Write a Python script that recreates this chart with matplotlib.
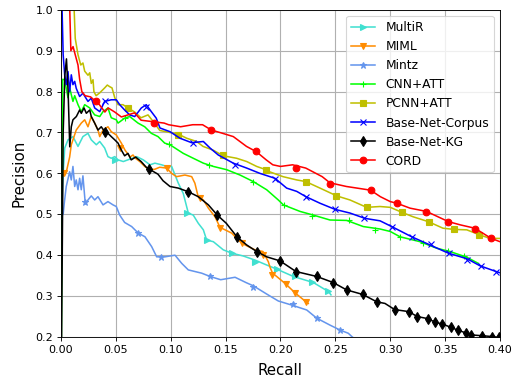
import matplotlib
matplotlib.use("Agg")
import matplotlib.pyplot as plt
from matplotlib.lines import Line2D

# ---- data (recall, precision) ----
multir_r = [0.0005, 0.002, 0.0034, 0.0064, 0.0109, 0.0155, 0.020, 0.0246, 0.0276, 0.0322, 0.0353,
            0.0398, 0.0428, 0.0458, 0.049, 0.052, 0.0568, 0.069, 0.075, 0.0811, 0.0856, 0.0917,
            0.0963, 0.1008, 0.1069, 0.1114, 0.116, 0.1205, 0.1251, 0.1297, 0.1327, 0.1388, 0.1479,
            0.1555, 0.1661, 0.1768, 0.1874, 0.1965, 0.2117, 0.230, 0.2437, 0.246]
multir_p = [0.50, 0.60, 0.662, 0.682, 0.69, 0.666, 0.69, 0.698, 0.682, 0.67, 0.678,
            0.662, 0.641, 0.637, 0.641, 0.633, 0.629, 0.641, 0.633, 0.621, 0.625, 0.621,
            0.617, 0.617, 0.576, 0.551, 0.503, 0.498, 0.478, 0.462, 0.437, 0.433, 0.413,
            0.405, 0.398, 0.388, 0.376, 0.366, 0.348, 0.333, 0.311, 0.303]
multir_mr = [0.049, 0.1145, 0.1328, 0.1555, 0.1768, 0.1965, 0.2135, 0.229, 0.243]
multir_mp = [0.633, 0.503, 0.437, 0.406, 0.384, 0.366, 0.350, 0.334, 0.313]

miml_r = [0.001, 0.003, 0.005, 0.0079, 0.0094, 0.0139, 0.0185, 0.0216, 0.0246, 0.0276, 0.0307,
          0.0337, 0.0353, 0.0383, 0.0428, 0.0458, 0.0504, 0.055, 0.0583, 0.0629, 0.0656, 0.0678,
          0.0718, 0.0763, 0.0808, 0.0854, 0.0899, 0.0963, 0.1008, 0.1053, 0.1129, 0.1191, 0.122,
          0.125, 0.1297, 0.1343, 0.1403, 0.1449, 0.1495, 0.1555, 0.1616, 0.1677, 0.1768, 0.184,
          0.1889, 0.1905, 0.1928, 0.1965, 0.205, 0.2132, 0.2232, 0.2253]
miml_p = [0.59, 0.60, 0.605, 0.64, 0.67, 0.706, 0.723, 0.731, 0.714, 0.739, 0.723,
          0.706, 0.69, 0.706, 0.714, 0.702, 0.694, 0.674, 0.657, 0.64, 0.645, 0.637,
          0.629, 0.617, 0.609, 0.61, 0.615, 0.613, 0.60, 0.592, 0.596, 0.592, 0.576,
          0.543, 0.535, 0.515, 0.494, 0.468, 0.462, 0.454, 0.437, 0.425, 0.413, 0.409,
          0.384, 0.37, 0.356, 0.348, 0.329, 0.308, 0.286, 0.282]
miml_mr = [0.003, 0.0538, 0.0963, 0.1267, 0.1449, 0.1646, 0.1843, 0.192, 0.205, 0.2132, 0.2232]
miml_mp = [0.60, 0.662, 0.613, 0.539, 0.466, 0.429, 0.40, 0.352, 0.329, 0.308, 0.286]

mintz_r = [0.002, 0.003, 0.0048, 0.0079, 0.0094, 0.0109, 0.0125, 0.0139, 0.0155, 0.017, 0.0185,
           0.020, 0.0216, 0.0222, 0.0246, 0.0276, 0.0307, 0.0337, 0.0383, 0.0428, 0.0474, 0.0504,
           0.0535, 0.058, 0.0644, 0.0704, 0.0765, 0.0826, 0.0872, 0.0948, 0.1039, 0.110, 0.116,
           0.1282, 0.1358, 0.1455, 0.1586, 0.1686, 0.1753, 0.1874, 0.198, 0.2102, 0.2239, 0.233,
           0.2451, 0.2542, 0.2618, 0.265, 0.270]
mintz_p = [0.50, 0.527, 0.568, 0.604, 0.584, 0.617, 0.568, 0.584, 0.56, 0.588, 0.56,
           0.594, 0.543, 0.525, 0.535, 0.545, 0.535, 0.543, 0.523, 0.531, 0.523, 0.519,
           0.498, 0.48, 0.47, 0.454, 0.445, 0.421, 0.396, 0.396, 0.40, 0.38, 0.364,
           0.356, 0.348, 0.340, 0.346, 0.333, 0.325, 0.305, 0.288, 0.278, 0.266, 0.246,
           0.229, 0.217, 0.209, 0.201, 0.19]
mintz_mr = [0.0216, 0.0702, 0.0914, 0.1358, 0.1752, 0.2117, 0.233, 0.2542]
mintz_mp = [0.53, 0.454, 0.396, 0.348, 0.323, 0.28, 0.246, 0.217]

cnn_r = [0.0, 0.0015, 0.0034, 0.0064, 0.0079, 0.0109, 0.0125, 0.0155, 0.0185, 0.0216, 0.0262,
         0.0307, 0.0353, 0.0383, 0.0428, 0.0458, 0.0504, 0.052, 0.058, 0.0626, 0.0702, 0.0763,
         0.0823, 0.0884, 0.0945, 0.0993, 0.1039, 0.1114, 0.1205, 0.1297, 0.1388, 0.151, 0.1631,
         0.1752, 0.1874, 0.198, 0.2026, 0.2178, 0.2299, 0.2451, 0.2603, 0.2754, 0.2907, 0.30,
         0.3089, 0.3271, 0.3423, 0.3544, 0.3697, 0.3802]
cnn_p = [0.0, 0.83, 0.829, 0.785, 0.809, 0.776, 0.79, 0.768, 0.751, 0.768, 0.76,
         0.743, 0.739, 0.751, 0.76, 0.736, 0.731, 0.723, 0.735, 0.739, 0.723, 0.714,
         0.698, 0.69, 0.674, 0.67, 0.662, 0.649, 0.637, 0.625, 0.617, 0.609, 0.596,
         0.58, 0.56, 0.535, 0.523, 0.507, 0.498, 0.486, 0.485, 0.47, 0.464, 0.458,
         0.445, 0.433, 0.417, 0.409, 0.395, 0.38]
cnn_mr = [0.058, 0.098, 0.135, 0.175, 0.203, 0.2285, 0.262, 0.286, 0.309, 0.330, 0.353, 0.367]
cnn_mp = [0.735, 0.672, 0.62, 0.578, 0.523, 0.497, 0.485, 0.462, 0.445, 0.43, 0.41, 0.398]

pcnn_r = [0.012, 0.013, 0.0155, 0.018, 0.020, 0.0216, 0.0246, 0.0262, 0.0276, 0.0292, 0.030,
          0.032, 0.0353, 0.0398, 0.0422, 0.0444, 0.0465, 0.049, 0.052, 0.0565, 0.061, 0.0672,
          0.0729, 0.0793, 0.0854, 0.090, 0.0993, 0.1069, 0.1145, 0.1236, 0.1294, 0.1385, 0.1479,
          0.160, 0.1692, 0.1783, 0.1868, 0.190, 0.2023, 0.2148, 0.223, 0.236, 0.2512, 0.2633,
          0.2785, 0.2907, 0.300, 0.3104, 0.3207, 0.3347, 0.348, 0.3581, 0.3697, 0.3811, 0.3909,
          0.400]
pcnn_p = [1.0, 0.93, 0.89, 0.865, 0.87, 0.85, 0.84, 0.846, 0.82, 0.829, 0.80,
          0.79, 0.797, 0.809, 0.816, 0.812, 0.809, 0.785, 0.768, 0.768, 0.76, 0.75,
          0.736, 0.743, 0.722, 0.705, 0.70, 0.696, 0.686, 0.678, 0.666, 0.657, 0.643,
          0.637, 0.629, 0.617, 0.609, 0.604, 0.592, 0.584, 0.58, 0.564, 0.545, 0.535,
          0.517, 0.519, 0.517, 0.505, 0.494, 0.482, 0.466, 0.463, 0.462, 0.45, 0.441,
          0.441]
pcnn_mr = [0.061, 0.107, 0.148, 0.187, 0.223, 0.251, 0.279, 0.311, 0.335, 0.358, 0.381]
pcnn_mp = [0.76, 0.695, 0.644, 0.609, 0.58, 0.545, 0.517, 0.505, 0.482, 0.463, 0.45]

corpus_r = [0.001, 0.002, 0.0034, 0.0048, 0.0064, 0.0079, 0.0094, 0.0109, 0.0125, 0.0139, 0.017,
            0.020, 0.0246, 0.0276, 0.0307, 0.0353, 0.0398, 0.0458, 0.0504, 0.0535, 0.058, 0.0626,
            0.0672, 0.0732, 0.0777, 0.0823, 0.0868, 0.0902, 0.0993, 0.1084, 0.1191, 0.1297, 0.1358,
            0.1433, 0.157, 0.1692, 0.1813, 0.1904, 0.195, 0.2056, 0.2148, 0.2232, 0.236, 0.2497,
            0.2633, 0.277, 0.2907, 0.3013, 0.3195, 0.3362, 0.3529, 0.3702, 0.3818, 0.3954, 0.400]
corpus_p = [1.0, 0.89, 0.84, 0.817, 0.849, 0.80, 0.841, 0.817, 0.825, 0.808, 0.788,
            0.796, 0.776, 0.784, 0.76, 0.751, 0.776, 0.78, 0.78, 0.768, 0.755, 0.743,
            0.739, 0.76, 0.768, 0.751, 0.735, 0.711, 0.702, 0.686, 0.675, 0.678, 0.662,
            0.645, 0.625, 0.613, 0.60, 0.592, 0.588, 0.564, 0.556, 0.543, 0.527, 0.512,
            0.503, 0.49, 0.484, 0.47, 0.445, 0.425, 0.405, 0.391, 0.374, 0.361, 0.357]
corpus_mr = [0.040, 0.0777, 0.1205, 0.1586, 0.195, 0.2232, 0.2497, 0.276, 0.3013, 0.3195,
             0.3371, 0.3538, 0.3698, 0.3827, 0.396]
corpus_mp = [0.776, 0.763, 0.674, 0.621, 0.586, 0.543, 0.512, 0.492, 0.47, 0.445,
             0.427, 0.405, 0.389, 0.374, 0.36]

kg_r = [0.0, 0.002, 0.0035, 0.005, 0.0065, 0.008, 0.0094, 0.0109, 0.014, 0.0155, 0.017,
        0.0185, 0.021, 0.0231, 0.0262, 0.0276, 0.0307, 0.0337, 0.0367, 0.0398, 0.0428, 0.0458,
        0.049, 0.052, 0.055, 0.058, 0.061, 0.064, 0.068, 0.073, 0.0777, 0.080, 0.0884, 0.093,
        0.0993, 0.1069, 0.1161, 0.1251, 0.1343, 0.1424, 0.1506, 0.1606, 0.1692, 0.1783, 0.1874,
        0.1996, 0.2141, 0.233, 0.2481, 0.2603, 0.2749, 0.2877, 0.2952, 0.304, 0.317, 0.3245,
        0.334, 0.341, 0.347, 0.355, 0.362, 0.369, 0.374, 0.384, 0.393, 0.400]
kg_p = [0.0, 0.70, 0.84, 0.88, 0.80, 0.665, 0.714, 0.731, 0.739, 0.747, 0.755,
        0.747, 0.76, 0.747, 0.755, 0.739, 0.723, 0.706, 0.714, 0.702, 0.698, 0.69,
        0.682, 0.674, 0.657, 0.643, 0.649, 0.633, 0.64, 0.629, 0.615, 0.611, 0.598, 0.582,
        0.568, 0.564, 0.555, 0.543, 0.523, 0.498, 0.478, 0.444, 0.425, 0.409, 0.396,
        0.386, 0.36, 0.348, 0.333, 0.315, 0.304, 0.286, 0.282, 0.267, 0.262, 0.25,
        0.245, 0.236, 0.232, 0.224, 0.216, 0.21, 0.205, 0.203, 0.201, 0.198]
kg_mr = [0.040, 0.080, 0.1161, 0.1424, 0.1606, 0.1783, 0.1996, 0.2141, 0.233, 0.2481, 0.2603,
         0.2749, 0.2877, 0.304, 0.317, 0.3245, 0.334, 0.341, 0.347, 0.355, 0.362, 0.369,
         0.374, 0.384, 0.393, 0.399]
kg_mp = [0.702, 0.611, 0.555, 0.498, 0.444, 0.409, 0.386, 0.36, 0.348, 0.333, 0.315,
         0.304, 0.286, 0.267, 0.262, 0.25, 0.245, 0.236, 0.232, 0.224, 0.216, 0.21,
         0.205, 0.203, 0.201, 0.2]

cord_r = [0.004, 0.008, 0.009, 0.011, 0.0155, 0.017, 0.019, 0.022, 0.027, 0.032, 0.035,
          0.040, 0.043, 0.049, 0.055, 0.061, 0.067, 0.073, 0.085, 0.094, 0.098, 0.109,
          0.120, 0.129, 0.137, 0.146, 0.157, 0.169, 0.178, 0.187, 0.193, 0.200, 0.211,
          0.223, 0.238, 0.245, 0.260, 0.282, 0.291, 0.300, 0.306, 0.318, 0.333, 0.353,
          0.364, 0.377, 0.392, 0.400]
cord_p = [1.0, 1.0, 0.90, 0.91, 0.865, 0.83, 0.80, 0.79, 0.787, 0.775, 0.768,
          0.75, 0.76, 0.75, 0.738, 0.743, 0.748, 0.73, 0.726, 0.723, 0.719, 0.714,
          0.719, 0.719, 0.706, 0.699, 0.69, 0.666, 0.653, 0.633, 0.621, 0.617, 0.621,
          0.613, 0.592, 0.577, 0.568, 0.559, 0.543, 0.531, 0.527, 0.515, 0.507, 0.482,
          0.474, 0.466, 0.441, 0.433]
cord_mr = [0.032, 0.085, 0.137, 0.178, 0.214, 0.245, 0.282, 0.306, 0.333, 0.353, 0.377, 0.392]
cord_mp = [0.778, 0.724, 0.706, 0.655, 0.612, 0.574, 0.559, 0.527, 0.505, 0.482, 0.465, 0.441]

xticks = [0.00, 0.05, 0.10, 0.15, 0.20, 0.25, 0.30, 0.35, 0.40]
yticks = [0.2, 0.3, 0.4, 0.5, 0.6, 0.7, 0.8, 0.9, 1.0]

series = [
    ("MultiR", multir_r, multir_p, multir_mr, multir_mp, "turquoise", ">"),
    ("MIML", miml_r, miml_p, miml_mr, miml_mp, "darkorange", "v"),
    ("Mintz", mintz_r, mintz_p, mintz_mr, mintz_mp, "cornflowerblue", "*"),
    ("CNN+ATT", cnn_r, cnn_p, cnn_mr, cnn_mp, "lime", "+"),
    ("PCNN+ATT", pcnn_r, pcnn_p, pcnn_mr, pcnn_mp, "y", "s"),
    ("Base-Net-Corpus", corpus_r, corpus_p, corpus_mr, corpus_mp, "b", "x"),
    ("Base-Net-KG", kg_r, kg_p, kg_mr, kg_mp, "k", "d"),
    ("CORD", cord_r, cord_p, cord_mr, cord_mp, "r", "o"),
]

fig = plt.figure(figsize=(6.4, 4.79), dpi=80)
ax = fig.add_axes([0.1191, 0.1201, 0.8575, 0.8538])

handles = []
for name, r, p, mr, mp, c, m in series:
    ax.plot(r, p, color=c, lw=1.4)
    ax.plot(mr, mp, color=c, marker=m, linestyle="none", ms=6)
    handles.append(Line2D([], [], color=c, marker=m, lw=1.4, ms=6, label=name))

ax.set_xlim(0, 0.4)
ax.set_ylim(0.2, 1.0)
ax.set_xticks(xticks)
ax.set_yticks(yticks)
ax.grid(True, color="#b0b0b0", lw=1.0)
ax.set_axisbelow(True)
ax.set_xlabel("Recall", fontsize=13.5, labelpad=7)
ax.set_ylabel("Precision", fontsize=13.5, labelpad=8)
ax.legend(handles=handles, loc="upper right", fontsize=11)

fig.savefig("out.png", dpi=80)
